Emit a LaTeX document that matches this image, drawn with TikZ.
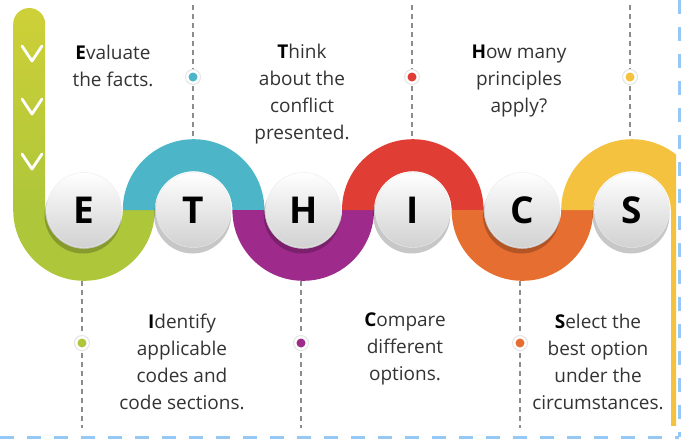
\documentclass[tikz,border=0pt]{standalone}
\usepackage{fontspec}
\setmainfont{Open Sans}
\usetikzlibrary{positioning}

\definecolor{ethGreen}{RGB}{174,198,58}
\definecolor{ethGreenL}{RGB}{206,208,56}
\definecolor{ethTeal}{RGB}{76,182,200}
\definecolor{ethPurple}{RGB}{158,42,140}
\definecolor{ethRed}{RGB}{224,62,52}
\definecolor{ethOrange}{RGB}{230,110,48}
\definecolor{ethYellow}{RGB}{244,194,62}
\definecolor{ethBlue}{RGB}{150,200,245}

\tikzset{
  letterdisc/.style={circle, minimum size=75pt, inner sep=0pt, top color=white, bottom color=black!18, draw=black!8, font=\fontsize{37}{37}\selectfont\bfseries},
  discshadow/.style={black, opacity=.22},
  guide/.style={black!45, line width=1.6pt, dash pattern=on 5pt off 4pt},
  halo/.style={circle, minimum size=15pt, inner sep=0pt, fill=white, draw=black!10, line width=1pt},
  pip/.style={circle, minimum size=9pt, inner sep=0pt, fill=#1},
  caption/.style={align=center, text=black!80, font=\fontsize{19}{27}\selectfont},
  chevron/.style={white, line width=2.8pt, line cap=round, line join=round},
  frameline/.style={ethBlue, line width=3pt, dash pattern=on 14pt off 13pt}
}
\newcommand{\ethcap}[1]{\textbf{\color{black}#1}}

\begin{document}
\begin{tikzpicture}[x=1pt,y=1pt,yscale=-1,xscale=1]
\useasboundingbox (0,0) rectangle (685,440);

%Guide lines (top)
\coordinate (topT) at (193,5);
\coordinate (bandT) at (193,139);
\draw [guide] (topT) -- (bandT);
\coordinate (topI) at (412,5);
\coordinate (bandI) at (412,139);
\draw [guide] (topI) -- (bandI);
\coordinate (topS) at (630,5);
\coordinate (bandS) at (630,139);
\draw [guide] (topS) -- (bandS);
%Guide lines (bottom)
\coordinate (bandE) at (82,281);
\coordinate (botE) at (82,428);
\draw [guide] (bandE) -- (botE);
\coordinate (bandH) at (301,281);
\coordinate (botH) at (301,428);
\draw [guide] (bandH) -- (botH);
\coordinate (bandC) at (520,281);
\coordinate (botC) at (520,428);
\draw [guide] (bandC) -- (botC);

\begin{scope}
\clip (0,0) rectangle (676,440);
%Band: green leg and E
\shade [top color=ethGreenL, bottom color=ethGreen] (13.2,210) -- (13.2,24) arc [start angle=180, end angle=360, radius=16] -- (45.2,210) -- cycle;
\fill [ethGreen] (13.2,210) arc [start angle=180, end angle=0, radius=70.8] -- (122.8,210) arc [start angle=0, end angle=180, radius=38.8] -- cycle;
%Band: T
\fill [ethTeal] (122.8,210) arc [start angle=180, end angle=360, radius=70.8] -- (232.4,210) arc [start angle=360, end angle=180, radius=38.8] -- cycle;
%Band: H
\fill [ethPurple] (232.4,210) arc [start angle=180, end angle=0, radius=70.8] -- (342,210) arc [start angle=0, end angle=180, radius=38.8] -- cycle;
%Band: I
\fill [ethRed] (342,210) arc [start angle=180, end angle=360, radius=70.8] -- (451.6,210) arc [start angle=360, end angle=180, radius=38.8] -- cycle;
%Band: C
\fill [ethOrange] (451.6,210) arc [start angle=180, end angle=0, radius=70.8] -- (561.2,210) arc [start angle=0, end angle=180, radius=38.8] -- cycle;
%Band: S and yellow leg
\fill [ethYellow] (561.2,210) arc [start angle=180, end angle=360, radius=70.8] -- (670.8,210) arc [start angle=360, end angle=180, radius=38.8] -- cycle;
\fill [ethYellow] (670.8,210) rectangle (702.8,426);
\end{scope}

%Chevrons on the green leg
\draw [chevron] (22,46) -- (32,61) -- (42,46);
\draw [chevron] (22,99) -- (32,114) -- (42,99);
\draw [chevron] (22,154) -- (32,169) -- (42,154);

%Disc shadows
\fill [discshadow] (83,215) circle (38.5);
\fill [discshadow] (192.6,215) circle (38.5);
\fill [discshadow] (302.2,215) circle (38.5);
\fill [discshadow] (411.8,215) circle (38.5);
\fill [discshadow] (521.4,215) circle (38.5);
\fill [discshadow] (631,215) circle (38.5);

%Letter discs
\node [letterdisc] (discE) at (84,210) {E};
\node [letterdisc] (discT) at (193.6,210) {T};
\node [letterdisc] (discH) at (303.2,210) {H};
\node [letterdisc] (discI) at (412.8,210) {I};
\node [letterdisc] (discC) at (522.4,210) {C};
\node [letterdisc] (discS) at (632,210) {S};

%Dots on the guides
\node [halo] (haloT) at (193,77) {};
\node [pip=ethTeal] (pipT) at (haloT) {};
\node [halo] (haloI) at (412,77) {};
\node [pip=ethRed] (pipI) at (haloI) {};
\node [halo] (haloS) at (630,77) {};
\node [pip=ethYellow] (pipS) at (haloS) {};
\node [halo] (haloE) at (82,343) {};
\node [pip=ethGreen] (pipE) at (haloE) {};
\node [halo] (haloH) at (301,343) {};
\node [pip=ethPurple] (pipH) at (haloH) {};
\node [halo] (haloC) at (520,343) {};
\node [pip=ethOrange] (pipC) at (haloC) {};

% Text Node
\node [caption] (txtE) at (113,66) {\ethcap{E}valuate\\the facts.};
% Text Node
\node [caption] (txtT) at (302,94) {\ethcap{T}hink\\about the\\conflict\\presented.};
% Text Node
\node [caption] (txtH) at (519,81) {\ethcap{H}ow many\\principles\\apply?};
% Text Node
\node [caption] (txtI) at (182,362) {\ethcap{I}dentify\\applicable\\codes and\\code sections.};
% Text Node
\node [caption] (txtC) at (405,349) {\ethcap{C}ompare\\different\\options.};
% Text Node
\node [caption] (txtS) at (598,362) {\ethcap{S}elect the\\best option\\under the\\circumstances.};

%Frame marks
\coordinate (frameTR) at (679,0);
\coordinate (frameBR) at (679,437);
\coordinate (frameBL) at (0,437);
\draw [frameline] (frameTR) -- (frameBR);
\draw [frameline] (frameBL) -- (frameBR);

\end{tikzpicture}
\end{document}
